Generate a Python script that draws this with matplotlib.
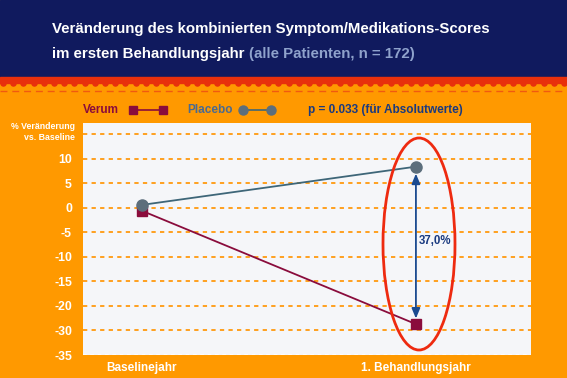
import matplotlib
matplotlib.use("Agg")
import matplotlib.pyplot as plt
from matplotlib.patches import Rectangle, Ellipse
from matplotlib.lines import Line2D
import numpy as np

# ---- data ----
categories = ["Baselinejahr", "1. Behandlungsjahr"]
placebo = [0.6, 8.4]
verum = [-0.6, -23.7]
ytick_pos = [10, 5, 0, -5, -10, -15, -20, -25, -30]
ytick_labels = ["10", "5", "0", "-5", "-10", "-15", "-20", "-30", "-35"]
grid_pos = [15, 10, 5, 0, -5, -10, -15, -20, -25]
diff_label = "37,0%"

FONT = "Liberation Sans"
NAVY_BG = "#101a5e"
ORANGE = "#ff9900"
RED = "#e8300c"
VERUM_C = "#8a0c3c"
PLACEBO_C = "#3e6678"
PLACEBO_M = "#5c6e7c"
TXT_NAVY = "#1a3a80"

W, H = 567, 378
fig = plt.figure(figsize=(W / 100, H / 100), dpi=100)
fig.patch.set_facecolor(ORANGE)

# background axes in pixel coordinates
bg = fig.add_axes([0, 0, 1, 1])
bg.set_xlim(0, W)
bg.set_ylim(H, 0)
bg.axis("off")
bg.add_patch(Rectangle((0, 0), W, 78, color=NAVY_BG, zorder=1))
bg.add_patch(Rectangle((0, 77), W, 6, color=RED, zorder=1))
sx = np.arange(3, W, 10.2)
bg.scatter(sx, [83] * len(sx), s=22, marker="o", color=RED, linewidths=0, zorder=2)
bg.plot([0, W], [91, 91], color="#f05a10", lw=1.0, dashes=(5, 3.5), zorder=2)

# title
bg.text(52, 33, "Veränderung des kombinierten Symptom/Medikations-Scores",
        color="white", fontsize=10.8, fontweight="bold", family=FONT, va="baseline", zorder=3)
t1 = bg.text(52, 58, "im ersten Behandlungsjahr ", color="white", fontsize=10.8,
             fontweight="bold", family=FONT, va="baseline", zorder=3)
fig.canvas.draw()
bb = t1.get_window_extent(renderer=fig.canvas.get_renderer())
bg.text(bb.x1, 58, "(alle Patienten, n = 172)", color="#8fa2cc", fontsize=10.8,
        fontweight="bold", family=FONT, va="baseline", zorder=3)

# legend row
ly = 110
bg.text(83, ly, "Verum", color=VERUM_C, fontsize=8.5, fontweight="bold", family=FONT,
        va="center", ha="left", zorder=3)
bg.add_line(Line2D([133, 163], [ly, ly], color=VERUM_C, lw=1.2, marker="s", markersize=6,
                   markerfacecolor=VERUM_C, markeredgecolor=VERUM_C, zorder=3))
bg.text(187, ly, "Placebo", color="#4a6a90", fontsize=8.5, fontweight="bold", family=FONT,
        va="center", ha="left", zorder=3)
bg.add_line(Line2D([243, 271], [ly, ly], color=PLACEBO_C, lw=1.2, marker="o", markersize=6.5,
                   markerfacecolor=PLACEBO_M, markeredgecolor=PLACEBO_M, zorder=3))
bg.text(308, ly, "p = 0.033 (für Absolutwerte)", color=TXT_NAVY, fontsize=8.5,
        fontweight="bold", family=FONT, va="center", ha="left", zorder=3)

# y-axis title
bg.text(75, 132, "% Veränderung\nvs. Baseline", color="white", fontsize=6.3,
        fontweight="bold", family=FONT, ha="right", va="center", linespacing=1.25, zorder=3)

# main plot axes
left, right, top, bottom = 83, 531, 123, 355
ax = fig.add_axes([left / W, (H - bottom) / H, (right - left) / W, (bottom - top) / H])
ax.set_facecolor("#f5f6f9")
x = np.arange(len(categories))
ax.set_xlim(-0.215, 1.42)
ax.set_ylim(-30, 17.3)
for g in grid_pos:
    ax.axhline(g, color="#ffa020", lw=1.4, dashes=(2.2, 2.2), zorder=1)
ax.axhline(-30, color="white", lw=1.2, dashes=(2.2, 2.2), zorder=1)
for s in ax.spines.values():
    s.set_visible(False)

ax.plot(x, placebo, color=PLACEBO_C, lw=1.3, zorder=3)
ax.plot(x, verum, color=VERUM_C, lw=1.3, zorder=3)
ax.plot(x, placebo, ls="none", marker="o", markersize=8, color=PLACEBO_M, zorder=5)
ax.plot(x, verum, ls="none", marker="s", markersize=7, color=VERUM_C, zorder=4)

ax.annotate("", xy=(x[1], placebo[1]), xytext=(x[1], verum[1]),
            arrowprops=dict(arrowstyle="<|-|>,head_length=0.6,head_width=0.25",
                            color="#1a4a90", lw=1.3, shrinkA=4, shrinkB=5), zorder=4)
ax.text(x[1] + 0.01, (placebo[1] + verum[1]) / 2 + 0.9, diff_label, color=TXT_NAVY,
        fontsize=8.3, fontweight="bold", family=FONT, ha="left", va="center", zorder=5)

ax.set_yticks(ytick_pos)
ax.set_yticklabels(ytick_labels)
ax.set_xticks(x)
ax.set_xticklabels(categories)
ax.tick_params(length=0, colors="white", labelsize=8.8, pad=8)
for lbl in ax.get_yticklabels() + ax.get_xticklabels():
    lbl.set_fontweight("bold")
    lbl.set_family(FONT)
    lbl.set_color("white")
ax.tick_params(axis="x", pad=5, labelsize=8.5)

# red ellipse (decoration)
bg2 = fig.add_axes([0, 0, 1, 1])
bg2.set_xlim(0, W)
bg2.set_ylim(H, 0)
bg2.axis("off")
bg2.patch.set_visible(False)
bg2.add_patch(Ellipse((419, 244), 72, 212, fill=False, edgecolor="#ee2a10", lw=2.0))

fig.savefig("out.png", dpi=100, facecolor=ORANGE)
